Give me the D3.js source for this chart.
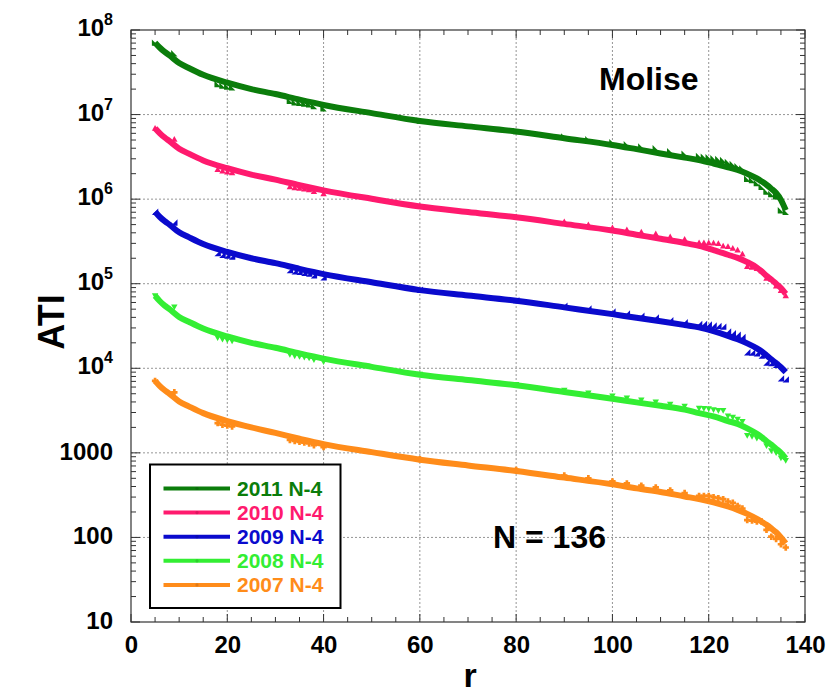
<!DOCTYPE html>
<html>
<head>
<meta charset="utf-8">
<script src="https://cdn.jsdelivr.net/npm/d3@7"></script>
<style>
  html, body { margin: 0; padding: 0; background: #fff; }
  svg text { font-family: "Liberation Sans", Arial, sans-serif; font-weight: bold; }
</style>
</head>
<body>
<svg id="chart" width="833" height="697"></svg>
<script>
// ---------------- data ----------------
const seriesNames = ["2011 N-4", "2010 N-4", "2009 N-4", "2008 N-4", "2007 N-4"];
const seriesColors = ["#0b7d0b", "#ff1a6e", "#0a0acd", "#33ee33", "#ff8c1a"];
const markerKinds = ["triLL", "triUp", "triLR", "triDown", "plus"];

// ranks at which the smooth fitted curve is read
const lineRanks = [5,6,7,8,10,12,15,20,25,30,35,40,50,60,70,80,90,100,105,110,115,118,121,124,126,128,130,131,132,133,134,135,136];
const line2011 = [7.08e7,6.17e7,5.5e7,5.0e7,4.07e7,3.55e7,2.95e7,2.38e7,2.0e7,1.75e7,1.5e7,1.3e7,1.04e7,8.4e6,7.25e6,6.3e6,5.25e6,4.37e6,3.9e6,3.47e6,3.1e6,2.9e6,2.64e6,2.38e6,2.22e6,2.0e6,1.76e6,1.62e6,1.48e6,1.33e6,1.18e6,9.8e5,7.4e5];
const line2010 = [6.9e6,6.0e6,5.35e6,4.85e6,3.95e6,3.45e6,2.87e6,2.32e6,1.95e6,1.7e6,1.46e6,1.27e6,1.01e6,8.2e5,7.05e5,6.1e5,5.1e5,4.25e5,3.8e5,3.4e5,3.03e5,2.8e5,2.5e5,2.2e5,2.02e5,1.8e5,1.55e5,1.4e5,1.24e5,1.12e5,1.0e5,8.9e4,7.6e4];
const line2009 = [7.1e5,6.15e5,5.5e5,5.0e5,4.05e5,3.55e5,2.95e5,2.38e5,2.0e5,1.75e5,1.5e5,1.3e5,1.04e5,8.4e4,7.25e4,6.3e4,5.25e4,4.37e4,3.95e4,3.6e4,3.25e4,3.05e4,2.75e4,2.42e4,2.2e4,1.97e4,1.72e4,1.58e4,1.42e4,1.28e4,1.15e4,1.03e4,9.0e3];
const line2008 = [7.2e4,6.2e4,5.5e4,5.0e4,4.05e4,3.55e4,2.95e4,2.38e4,2.0e4,1.75e4,1.5e4,1.3e4,1.04e4,8.4e3,7.25e3,6.3e3,5.25e3,4.37e3,3.95e3,3.6e3,3.25e3,2.95e3,2.7e3,2.38e3,2.2e3,1.95e3,1.68e3,1.53e3,1.38e3,1.25e3,1.12e3,1.0e3,8.6e2];
const line2007 = [7.1e3,6.15e3,5.5e3,5.0e3,4.05e3,3.55e3,2.95e3,2.38e3,2.0e3,1.72e3,1.47e3,1.27e3,1.02e3,8.3e2,7.1e2,6.1e2,5.1e2,4.25e2,3.8e2,3.45e2,3.05e2,2.84e2,2.6e2,2.32e2,2.12e2,1.9e2,1.66e2,1.53e2,1.41e2,1.28e2,1.15e2,1.0e2,85];

// ranks of the data points (markers)
const markerRanks = [5,9,18,19,20,21,33,34,35,36,37,38,40,60,80,90,95,100,103,106,109,112,115,118,119,120,121,122,123,124,125,126,127,128,129,130,131,132,133,134,135,136];
const pts2011 = [7.1e7,5.3e7,2.3e7,2.2e7,2.15e7,2.1e7,1.45e7,1.4e7,1.38e7,1.35e7,1.32e7,1.26e7,1.19e7,8.5e6,6.4e6,5.5e6,5.1e6,4.7e6,4.45e6,4.2e6,4.0e6,3.7e6,3.45e6,3.25e6,3.18e6,3.13e6,3.04e6,2.98e6,2.9e6,2.75e6,2.6e6,2.45e6,2.3e6,1.74e6,1.68e6,1.55e6,1.4e6,1.23e6,1.15e6,1.08e6,7.4e5,7.1e5];
const pts2010 = [6.9e6,5.1e6,2.25e6,2.15e6,2.1e6,2.05e6,1.4e6,1.37e6,1.35e6,1.32e6,1.29e6,1.23e6,1.16e6,8.3e5,6.2e5,5.4e5,5.0e5,4.6e5,4.35e5,4.1e5,3.9e5,3.6e5,3.35e5,3.06e5,3.06e5,3.06e5,3.03e5,3.0e5,2.8e5,2.75e5,2.63e5,2.5e5,2.25e5,1.6e5,1.57e5,1.52e5,1.43e5,1.16e5,1.13e5,9.4e4,8.3e4,7.2e4];
const pts2009 = [7.1e5,5.3e5,2.3e5,2.2e5,2.15e5,2.1e5,1.45e5,1.4e5,1.38e5,1.35e5,1.32e5,1.26e5,1.19e5,8.5e4,6.4e4,5.5e4,5.1e4,4.7e4,4.45e4,4.2e4,4.0e4,3.7e4,3.5e4,3.35e4,3.35e4,3.3e4,3.2e4,3.17e4,3.11e4,2.72e4,2.6e4,2.5e4,2.35e4,1.55e4,1.53e4,1.5e4,1.41e4,1.17e4,1.15e4,1.1e4,7.6e3,7.4e3];
const pts2008 = [7.2e4,5.3e4,2.3e4,2.2e4,2.15e4,2.1e4,1.45e4,1.4e4,1.38e4,1.35e4,1.32e4,1.26e4,1.19e4,8.5e3,6.4e3,5.5e3,5.1e3,4.7e3,4.45e3,4.2e3,4.0e3,3.75e3,3.55e3,3.37e3,3.34e3,3.31e3,3.22e3,3.16e3,3.16e3,2.73e3,2.64e3,2.5e3,2.35e3,1.6e3,1.56e3,1.49e3,1.49e3,1.21e3,1.06e3,1.0e3,8.7e2,8.1e2];
const pts2007 = [7.1e3,5.2e3,2.25e3,2.15e3,2.1e3,2.05e3,1.42e3,1.38e3,1.35e3,1.32e3,1.29e3,1.23e3,1.17e3,8.4e2,6.3e2,5.4e2,5.0e2,4.6e2,4.35e2,4.1e2,3.9e2,3.6e2,3.35e2,3.1e2,3.1e2,3.1e2,3.0e2,2.91e2,2.84e2,2.66e2,2.57e2,2.36e2,2.2e2,1.6e2,1.58e2,1.54e2,1.54e2,1.23e2,1.02e2,96,83,76];

const xTicks = [0,20,40,60,80,100,120,140];
const yTickValues = [10,100,1000,1e4,1e5,1e6,1e7,1e8];
const yTickLabels = ["10","100","1000","10|4","10|5","10|6","10|7","10|8"];

const lineSets = [line2011, line2010, line2009, line2008, line2007];
const pointSets = [pts2011, pts2010, pts2009, pts2008, pts2007];

// ---------------- layout ----------------
const L = 131, R = 805, T = 30, B = 622;
const svg = d3.select("#chart");
const x = d3.scaleLinear().domain([0, 140]).range([L, R]);
const y = d3.scaleLog().domain([10, 1e8]).range([B, T]);

// grid
const grid = svg.append("g").attr("stroke", "#8a8a8a").attr("stroke-width", 0.9).attr("stroke-dasharray", "2,2");
xTicks.slice(1, -1).forEach(v => grid.append("line").attr("x1", x(v)).attr("x2", x(v)).attr("y1", T).attr("y2", B));
yTickValues.slice(1, -1).forEach(v => grid.append("line").attr("x1", L).attr("x2", R).attr("y1", y(v)).attr("y2", y(v)));

// axes with inward ticks
const minorX = d3.range(0, 141, 5);
const ticks = svg.append("g").attr("stroke", "#333").attr("stroke-width", 1);
minorX.forEach(v => {
  const len = (v % 20 === 0) ? 8 : 5;
  ticks.append("line").attr("x1", x(v)).attr("x2", x(v)).attr("y1", B).attr("y2", B - len);
  ticks.append("line").attr("x1", x(v)).attr("x2", x(v)).attr("y1", T).attr("y2", T + len);
});
const minorY = [];
for (let e = 1; e < 8; e++) for (let m = 1; m <= 9; m++) minorY.push(m * Math.pow(10, e));
minorY.push(1e8);
minorY.forEach(v => {
  const major = Math.abs(Math.log10(v) - Math.round(Math.log10(v))) < 1e-9;
  const len = major ? 9 : 5;
  ticks.append("line").attr("x1", L).attr("x2", L + len).attr("y1", y(v)).attr("y2", y(v));
  ticks.append("line").attr("x1", R).attr("x2", R - len).attr("y1", y(v)).attr("y2", y(v));
});
svg.append("rect").attr("x", L).attr("y", T).attr("width", R - L).attr("height", B - T)
  .attr("fill", "none").attr("stroke", "#333").attr("stroke-width", 1.2);

// tick labels
const xAxisG = svg.append("g").attr("transform", `translate(0,${B})`)
  .call(d3.axisBottom(x).tickValues(xTicks).tickSize(0).tickPadding(0).tickFormat(d3.format("d")));
xAxisG.select(".domain").remove();
xAxisG.selectAll("text").attr("dy", null).attr("y", 31).attr("font-size", 24)
  .attr("font-family", "'Liberation Sans', Arial, sans-serif").attr("font-weight", "bold").attr("fill", "#000");

yTickValues.forEach((v, i) => {
  const lab = yTickLabels[i];
  const t = svg.append("text").attr("text-anchor", "end").attr("x", 113).attr("fill", "#000");
  if (lab.includes("|")) {
    const [base, ex] = lab.split("|");
    t.attr("y", y(v) + 6).attr("font-size", 24);
    t.append("tspan").text(base);
    t.append("tspan").attr("font-size", 16).attr("dy", -11).text(ex);
  } else {
    t.attr("y", y(v) + 7).attr("font-size", 24).text(lab);
  }
});

// axis titles
svg.append("text").attr("x", 470).attr("y", 687).attr("text-anchor", "middle").attr("font-size", 34).text("r");
svg.append("text").attr("transform", "translate(64,322) rotate(-90)").attr("text-anchor", "middle")
  .attr("font-size", 36).text("ATI");

// annotations
svg.append("text").attr("x", 599).attr("y", 90).attr("font-size", 32).text("Molise");
svg.append("text").attr("x", 493).attr("y", 548).attr("font-size", 32).text("N = 136");

// marker shapes
function markerPath(kind, s) {
  switch (kind) {
    case "triLL": return `M${-s},${-s}L${-s},${s}L${s},${s}Z`;
    case "triLR": return `M${s},${-s}L${s},${s}L${-s},${s}Z`;
    case "triUp": return `M0,${-s}L${s},${s * 0.8}L${-s},${s * 0.8}Z`;
    case "triDown": return `M0,${s}L${s},${-s * 0.8}L${-s},${-s * 0.8}Z`;
    case "plus": {
      const a = s, w = s * 0.42;
      return `M${-w},${-a}H${w}V${-w}H${a}V${w}H${w}V${a}H${-w}V${w}H${-a}V${-w}H${-w}Z`;
    }
  }
}

const lineGen = d3.line().x(d => x(d[0])).y(d => y(d[1])).curve(d3.curveMonotoneX);

seriesNames.forEach((name, i) => {
  const g = svg.append("g");
  const pts = markerRanks.map((r, k) => [r, pointSets[i][k]]);
  g.selectAll("path.pt").data(pts).enter().append("path")
    .attr("class", "pt")
    .attr("transform", d => `translate(${x(d[0])},${y(d[1])})`)
    .attr("d", markerPath(markerKinds[i], 3.2))
    .attr("fill", seriesColors[i]);
  const lp = lineRanks.map((r, k) => [r, lineSets[i][k]]);
  g.append("path").datum(lp).attr("d", lineGen)
    .attr("fill", "none").attr("stroke", seriesColors[i]).attr("stroke-width", 6)
    .attr("stroke-linecap", "butt").attr("stroke-linejoin", "round");
});

// legend
const lg = svg.append("g");
lg.append("rect").attr("x", 150).attr("y", 464.5).attr("width", 190.5).attr("height", 143.5)
  .attr("fill", "#fff").attr("stroke", "#000").attr("stroke-width", 2);
seriesNames.forEach((name, i) => {
  const yy = 488.5 + i * 24.1;
  lg.append("line").attr("x1", 163.5).attr("x2", 230).attr("y1", yy).attr("y2", yy)
    .attr("stroke", seriesColors[i]).attr("stroke-width", 4);
  lg.append("circle").attr("cx", 197).attr("cy", yy).attr("r", 1.6).attr("fill", d3.color(seriesColors[i]).darker(0.4));
  lg.append("text").attr("x", 237).attr("y", yy + 7.5).attr("font-size", 21).attr("fill", seriesColors[i]).text(name);
});
</script>
</body>
</html>
